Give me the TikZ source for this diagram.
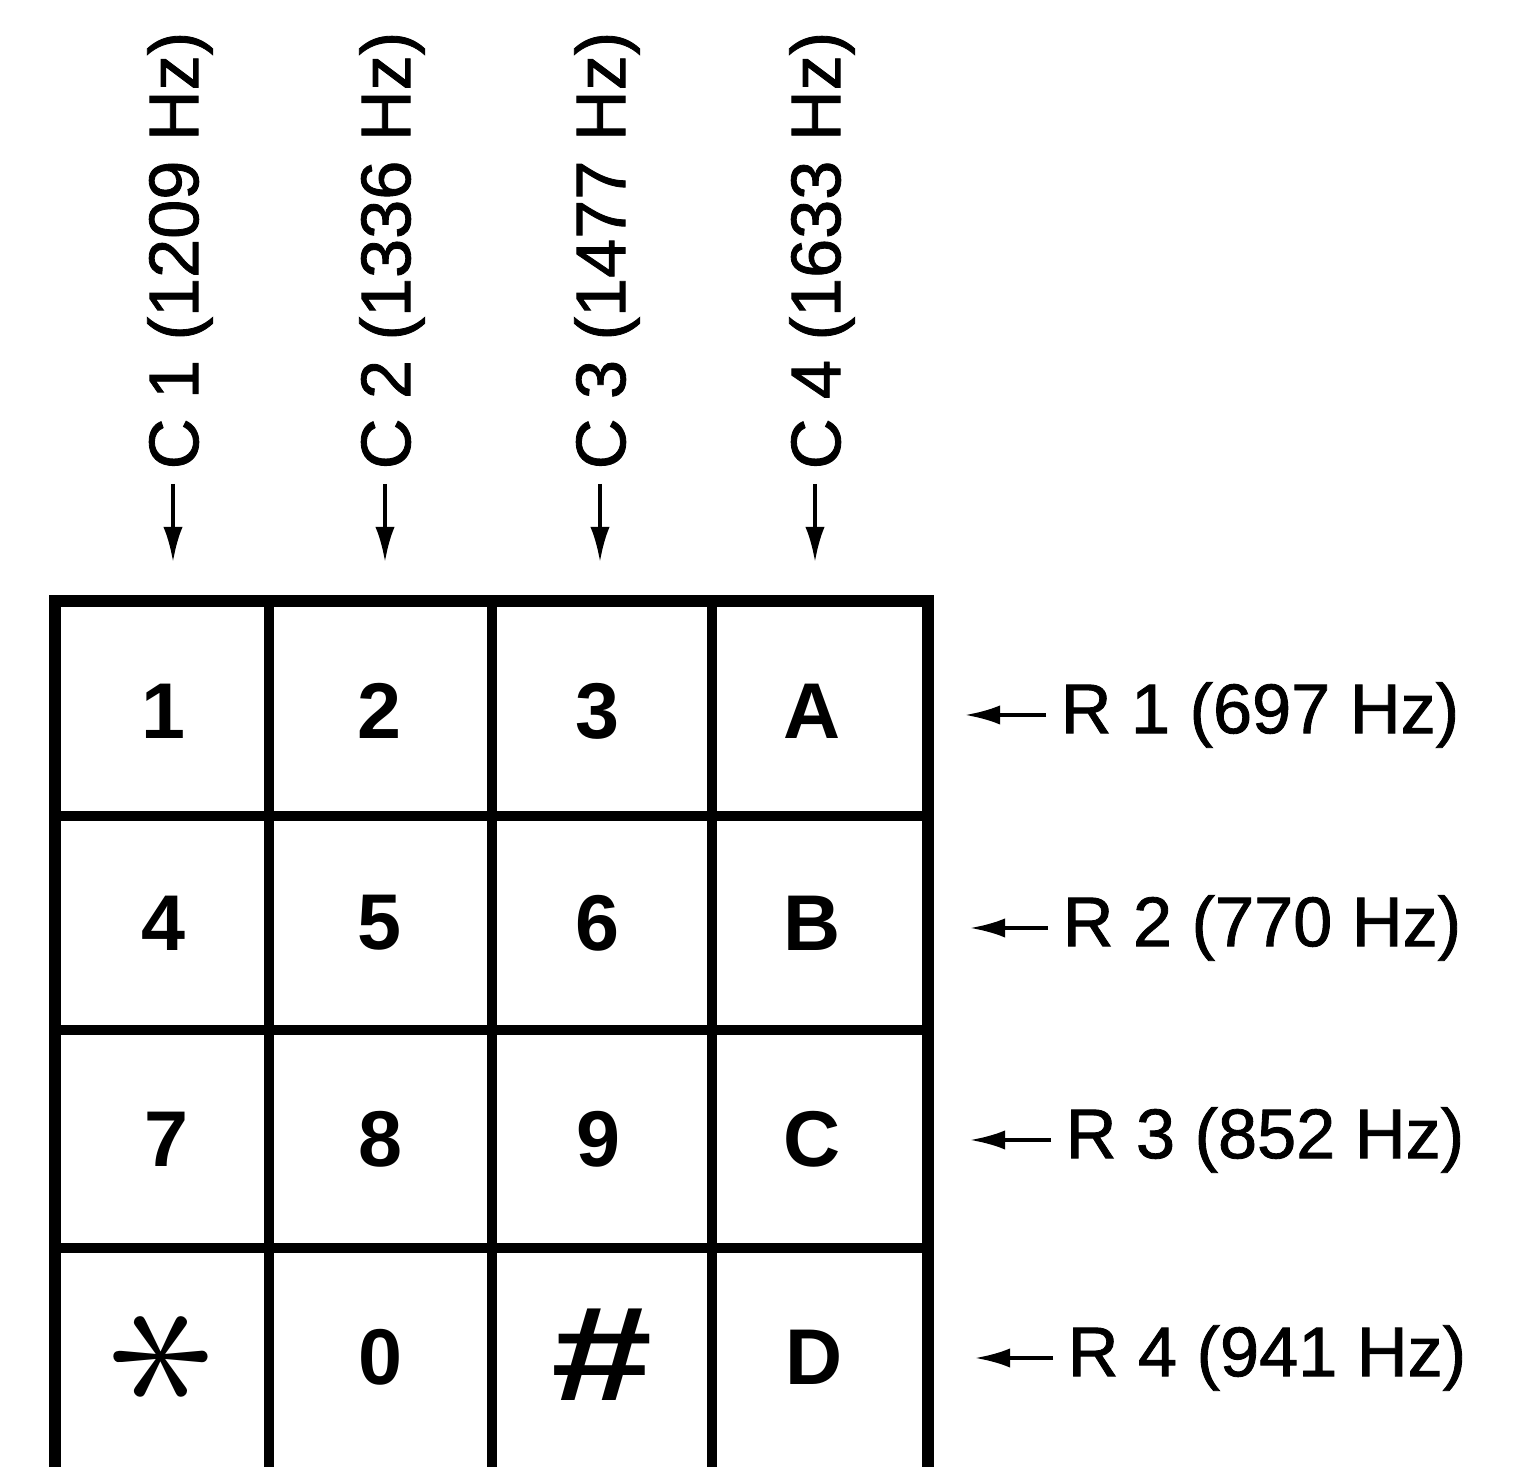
\documentclass[tikz,border=0pt]{standalone}
\usepackage{fontspec}
\setmainfont{Liberation Sans}
\newfontfamily\tonefont[FakeBold=1.2]{Liberation Sans}
\usetikzlibrary{arrows.meta}

\tikzset{
  key/.style={font=\fontsize{22.5}{22.5}\selectfont\bfseries},
  freq/.style={font=\fontsize{20}{20}\tonefont,inner sep=4pt},
  tone/.style={-{Latex[length=10pt,width=5.5pt]},line width=1.1pt},
  outer/.style={line width=3.6pt},
  inner/.style={line width=2.8pt}
}

\begin{document}
\begin{tikzpicture}
\useasboundingbox (0,0) rectangle (15.33,14.67);
% keypad grid
\draw[inner] (2.69,0) -- (2.69,8.66);
\draw[inner] (4.92,0) -- (4.92,8.66);
\draw[inner] (7.12,0) -- (7.12,8.66);
\draw[inner] (0.55,6.51) -- (9.28,6.51);
\draw[inner] (0.55,4.37) -- (9.28,4.37);
\draw[inner] (0.55,2.19) -- (9.28,2.19);
\draw[outer] (0.55,0) -- (0.55,8.66) -- (9.28,8.66) -- (9.28,0);
% keys
\node[key] (k1) at (1.63,7.56) {1};
\node[key] (k2) at (3.79,7.56) {2};
\node[key] (k3) at (5.97,7.56) {3};
\node[key] (kA) at (8.12,7.56) {A};
\node[key] (k4) at (1.63,5.44) {4};
\node[key] (k5) at (3.79,5.44) {5};
\node[key] (k6) at (5.97,5.44) {6};
\node[key] (kB) at (8.12,5.44) {B};
\node[key] (k7) at (1.66,3.28) {7};
\node[key] (k8) at (3.80,3.28) {8};
\node[key] (k9) at (5.98,3.28) {9};
\node[key] (kC) at (8.12,3.28) {C};
\node[key] (kstar) at (1.65,1.10) {\scalebox{3}{\rotatebox{90}{$\ast$}}};
\node[key] (k0) at (3.80,1.10) {0};
\node[key] (khash) at (6.02,1.12) {\scalebox{2.3}[1.7]{\#}};
\node[key] (kD) at (8.14,1.10) {D};
% column tones
\node[freq,rotate=90,anchor=west] (c1) at (1.80,9.83) {C 1 (1209 Hz)};
\node[freq,rotate=90,anchor=west] (c2) at (3.92,9.83) {C 2 (1336 Hz)};
\node[freq,rotate=90,anchor=west] (c3) at (6.07,9.83) {C 3 (1477 Hz)};
\node[freq,rotate=90,anchor=west] (c4) at (8.22,9.83) {C 4 (1633 Hz)};
\coordinate (c1a) at (1.73,9.05);
\coordinate (c2a) at (3.85,9.05);
\coordinate (c3a) at (6.00,9.05);
\coordinate (c4a) at (8.15,9.05);
\draw[tone] (c1.west -| c1a) -- (c1a);
\draw[tone] (c2.west -| c2a) -- (c2a);
\draw[tone] (c3.west -| c3a) -- (c3a);
\draw[tone] (c4.west -| c4a) -- (c4a);
% row tones
\node[freq,anchor=west] (r1) at (10.46,7.52) {R 1 (697 Hz)};
\node[freq,anchor=west] (r2) at (10.48,5.39) {R 2 (770 Hz)};
\node[freq,anchor=west] (r3) at (10.51,3.27) {R 3 (852 Hz)};
\node[freq,anchor=west] (r4) at (10.53,1.09) {R 4 (941 Hz)};
\coordinate (r1a) at (9.65,7.52);
\coordinate (r2a) at (9.70,5.39);
\coordinate (r3a) at (9.70,3.27);
\coordinate (r4a) at (9.75,1.09);
\draw[tone] (r1.west) -- (r1a);
\draw[tone] (r2.west) -- (r2a);
\draw[tone] (r3.west) -- (r3a);
\draw[tone] (r4.west) -- (r4a);
\end{tikzpicture}
\end{document}
